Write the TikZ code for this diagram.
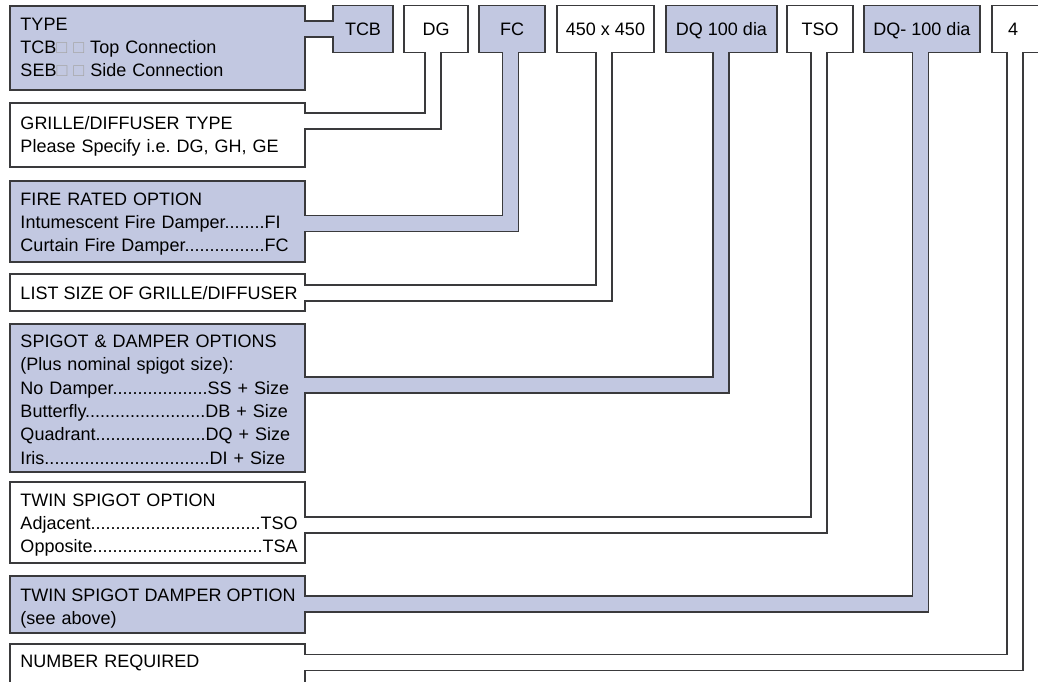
\documentclass[tikz,border=0pt]{standalone}
\usepackage{fontspec}
\setmainfont{Liberation Sans}
\usepackage{xcolor}
\usepackage{tikz}
\usetikzlibrary{calc, positioning}
\definecolor{boxblue}{RGB}{194,200,225}
\definecolor{linegray}{RGB}{58,58,60}
\definecolor{tabgray}{RGB}{165,165,165}
\tikzset{
    leftnode/.style = {draw=linegray, rectangle, line width=1.3pt, outer sep=0pt, text width=274pt,
      inner xsep=10.5pt, inner ysep=0pt, text height=24pt, align=left, node distance=0em,
      font=\fontsize{18pt}{23.3pt}\selectfont},
    topnode/.style = {draw=linegray, rectangle, line width=1.3pt, outer sep=0pt, inner sep=0pt,
      minimum height=47pt, text height=12.9pt, text depth=0pt, node distance=0em,
      font=\fontsize{18pt}{23.3pt}\selectfont},
    pipe/.style = {draw=linegray, line width=1.3pt, double distance=14.7pt,
      shorten <=-0.8pt, shorten >=-0.8pt}
}
\newcommand{\tabbox}{{\color{tabgray}□}}
\newcommand{\leaderdots}[1]{\foreach \d in {1,...,#1}{.}}
\newcommand{\oneline}[1]{\mbox{\spaceskip=0pt #1}}
\frenchspacing

\begin{document}
\begin{tikzpicture}
    \useasboundingbox (-157.5pt,48pt) rectangle (880.5pt,-633pt);
    \clip (-157.5pt,48pt) rectangle (880.5pt,-633pt);

    % option boxes down the left
    \node [name=type, leftnode, fill=boxblue, text depth=60pt]
        {TYPE\\TCB\tabbox\ \tabbox\ Top Connection\\SEB\tabbox\ \tabbox\ Side Connection};
    \node [name=grille, leftnode, fill=white, text height=26.5pt, text depth=37.5pt,
        below of = type, yshift=-87pt] {GRILLE/DIFFUSER TYPE\\Please Specify i.e. DG, GH, GE};
    \node [name=fire, leftnode, fill=boxblue, text depth=57pt,
        below of = type, yshift=-173.5pt]
        {FIRE RATED OPTION\\Intumescent Fire Damper\leaderdots{8}FI\\Curtain Fire Damper\leaderdots{16}FC};
    \node [name=list, leftnode, fill=white, text height=25pt, text depth=12pt,
        below of = type, yshift=-244.5pt] {\oneline{LIST SIZE OF GRILLE/DIFFUSER}};
    \node [name=spigot, leftnode, fill=boxblue, text height=23.5pt, text depth=124.5pt,
        below of = type, yshift=-350pt]
        {SPIGOT \& DAMPER OPTIONS\\(Plus nominal spigot size):\\
         No~Damper\leaderdots{19}SS~+~Size\\
         Butterfly\leaderdots{24}DB~+~Size\\
         Quadrant\leaderdots{22}DQ~+~Size\\
         Iris\leaderdots{33}DI~+~Size};
    \node [name=twin, leftnode, fill=white, text depth=57pt,
        below of = type, yshift=-474.5pt]
        {TWIN SPIGOT OPTION\\Adjacent\leaderdots{34}TSO\\Opposite\leaderdots{34}TSA};
    \node [name=twindamper, leftnode, fill=boxblue, text height=25pt, text depth=32pt,
        below of = type, yshift=-556.5pt] {\oneline{TWIN SPIGOT DAMPER OPTION}\\(see above)};
    \node [name=number, leftnode, fill=white, text height=23pt, text depth=37pt,
        below of = type, yshift=-626pt] {NUMBER REQUIRED};

    % code boxes along the top
    \node [name=tcb, topnode, fill=boxblue, minimum width=60pt,
        right of = type, xshift=205.5pt, yshift=19pt] {TCB};
    \node [name=dg, topnode, fill=white, minimum width=64pt,
        right of = type, xshift=278.5pt, yshift=19pt] {DG};
    \node [name=fc, topnode, fill=boxblue, minimum width=66pt,
        right of = type, xshift=354.5pt, yshift=19pt] {FC};
    \node [name=size, topnode, fill=white, minimum width=97pt,
        right of = type, xshift=448pt, yshift=19pt] {450 x 450};
    \node [name=dq, topnode, fill=boxblue, minimum width=111pt,
        right of = type, xshift=564pt, yshift=19pt] {DQ 100 dia};
    \node [name=tso, topnode, fill=white, minimum width=66pt,
        right of = type, xshift=662.5pt, yshift=19pt] {TSO};
    \node [name=dqtwin, topnode, fill=boxblue, minimum width=116pt,
        right of = type, xshift=764.5pt, yshift=19pt] {DQ- 100 dia};
    \node [name=num, topnode, fill=white, text width=30pt, inner xsep=16pt, align=left,
        right of = type, xshift=865.5pt, yshift=19pt] {4};

    % pipes joining each option to its code
    \draw [pipe, double=boxblue] (type.east |- tcb.west) -- (tcb.west);
    \draw [pipe, double=white] ([yshift=-18pt]grille.north east) -| ([xshift=29pt]dg.south west);
    \draw [pipe, double=boxblue] ([yshift=-42.5pt]fire.north east) -| ([xshift=31.5pt]fc.south west);
    \draw [pipe, double=white] ([yshift=-19pt]list.north east) -| ([xshift=47pt]size.south west);
    \draw [pipe, double=boxblue] ([yshift=-61pt]spigot.north east) -| ([xshift=55pt]dq.south west);
    \draw [pipe, double=white] ([yshift=-43pt]twin.north east) -| ([xshift=32pt]tso.south west);
    \draw [pipe, double=boxblue] ([yshift=-28pt]twindamper.north east) -| ([xshift=56.5pt]dqtwin.south west);
    \draw [pipe, double=white] ([yshift=-18.5pt]number.north east) -| ([xshift=23pt]num.south west);
\end{tikzpicture}
\end{document}
